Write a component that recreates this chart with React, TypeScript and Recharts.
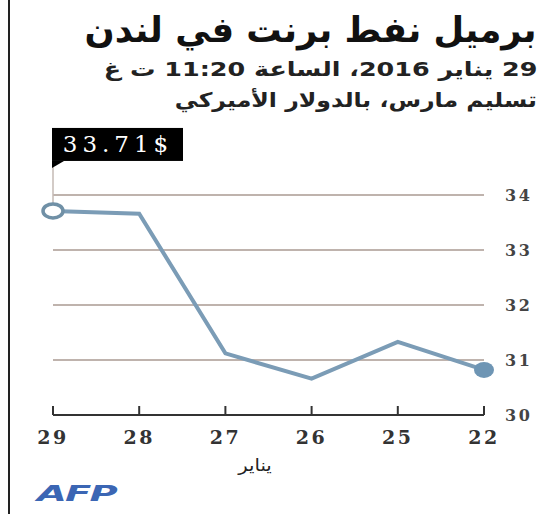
import React from "react";
import { LineChart, Line, XAxis, YAxis, CartesianGrid } from "recharts";

const days = ["22", "25", "26", "27", "28", "29"];
const prices = [30.82, 31.33, 30.66, 31.12, 33.66, 33.71];
const yTicks = [30, 31, 32, 33, 34];
const latestLabel = "33.71$";
const title = "برميل نفط برنت في لندن";
const subtitle1 = "29 يناير 2016، الساعة 11:20 ت غ";
const subtitle2 = "تسليم مارس، بالدولار الأميركي";
const xAxisTitle = "يناير";

const data = days.map((d, i) => ({ day: d, price: prices[i] }));

const LINE = "#7b9cb6";
const SERIF = "'DejaVu Serif', 'Liberation Serif', serif";
const SANS = "'DejaVu Sans', 'Noto Sans', sans-serif";

const XTick = (props: any) => {
  const { x, y, payload } = props;
  return (
    <g>
      <line x1={x} x2={x} y1={y} y2={y - 9} stroke="#333" strokeWidth={2} />
      <text
        x={x}
        y={y + 29}
        textAnchor="middle"
        fontFamily={SERIF}
        fontWeight="bold"
        fontSize={19}
        letterSpacing={2.5}
        fill="#333"
      >
        {payload.value}
      </text>
    </g>
  );
};

const YTick = (props: any) => {
  const { x, y, payload } = props;
  return (
    <text
      x={x}
      y={y + 6}
      textAnchor="start"
      fontFamily={SERIF}
      fontWeight="bold"
      fontSize={16}
      letterSpacing={2.5}
      fill="#444"
    >
      {payload.value}
    </text>
  );
};

const Dot = (props: any) => {
  const { cx, cy, index } = props;
  if (index === data.length - 1) {
    const bx = cx - 1;
    const by = cy - 83;
    return (
      <g key={`d${index}`}>
        <line x1={cx} x2={cx} y1={by + 33} y2={cy - 7} stroke="#c4bab4" strokeWidth={1.5} />
        <rect x={bx} y={by} width={131} height={33} fill="#000" />
        <polygon points={`${bx},${by + 33} ${bx + 12},${by + 33} ${bx},${by + 40}`} fill="#000" />
        <text
          x={bx + 66}
          y={by + 24}
          textAnchor="middle"
          fontFamily={SERIF}
          fontSize={23}
          letterSpacing={5}
          fill="#fff"
        >
          {latestLabel}
        </text>
        <ellipse cx={cx} cy={cy} rx={10} ry={7} fill="#fff" stroke="#7090a6" strokeWidth={3.5} />
      </g>
    );
  }
  if (index === 0) {
    return <ellipse key={`d${index}`} cx={cx} cy={cy} rx={10} ry={8} fill="#6e95b4" />;
  }
  return <g key={`d${index}`} />;
};

const subStyle: React.CSSProperties = {
  position: "absolute",
  right: 20,
  direction: "rtl",
  textAlign: "right",
  fontFamily: SANS,
  fontWeight: "bold",
  fontSize: 20,
  color: "#222",
  whiteSpace: "nowrap",
  lineHeight: "31px",
  transformOrigin: "right center",
};

export default function App() {
  return (
    <div style={{ position: "absolute", left: 0, top: 0, width: 557, height: 514, background: "#fff", overflow: "hidden" }}>
      <div style={{ position: "absolute", left: 8, top: 0, width: 2, height: 514, background: "#222" }} />
      <div
        style={{
          position: "absolute",
          right: 20,
          top: 6,
          direction: "rtl",
          textAlign: "right",
          fontFamily: SANS,
          fontWeight: "bold",
          fontSize: 35,
          color: "#111",
          whiteSpace: "nowrap",
          lineHeight: "48px",
          transform: "scaleX(1.01)",
          transformOrigin: "right center",
        }}
      >
        {title}
      </div>
      <div style={{ ...subStyle, top: 54, transform: "scaleX(1.27)" }}>{subtitle1}</div>
      <div style={{ ...subStyle, top: 85, transform: "scaleX(1.18)" }}>{subtitle2}</div>
      <div style={{ position: "absolute", left: 0, top: 0 }}>
        <LineChart width={557} height={514} data={data} margin={{ top: 195, right: 33, bottom: 69, left: 53 }}>
          <CartesianGrid vertical={false} stroke="#bfb3ad" strokeWidth={2} />
          <XAxis
            dataKey="day"
            reversed
            height={30}
            tickSize={0}
            tickMargin={0}
            tickLine={false}
            axisLine={{ stroke: "#333", strokeWidth: 2 }}
            tick={<XTick />}
            interval={0}
          />
          <YAxis
            orientation="right"
            domain={[30, 34]}
            ticks={yTicks}
            width={40}
            axisLine={false}
            tickLine={false}
            tickSize={0}
            tickMargin={21}
            tick={<YTick />}
          />
          <Line
            type="linear"
            dataKey="price"
            stroke={LINE}
            strokeWidth={4}
            dot={Dot}
            activeDot={false}
            isAnimationActive={false}
          />
        </LineChart>
      </div>
      <div
        style={{
          position: "absolute",
          left: 225,
          width: 60,
          top: 455,
          textAlign: "center",
          direction: "rtl",
          fontFamily: SANS,
          fontSize: 17,
          color: "#222",
          transform: "scaleX(1.15)",
        }}
      >
        {xAxisTitle}
      </div>
      <div
        style={{
          position: "absolute",
          left: 37,
          top: 481,
          fontFamily: "'DejaVu Sans', sans-serif",
          fontWeight: "bold",
          fontStyle: "italic",
          fontSize: 22,
          letterSpacing: -1,
          color: "#3b66b4",
          transform: "scaleX(1.75)",
          transformOrigin: "left center",
        }}
      >
        AFP
      </div>
    </div>
  );
}
